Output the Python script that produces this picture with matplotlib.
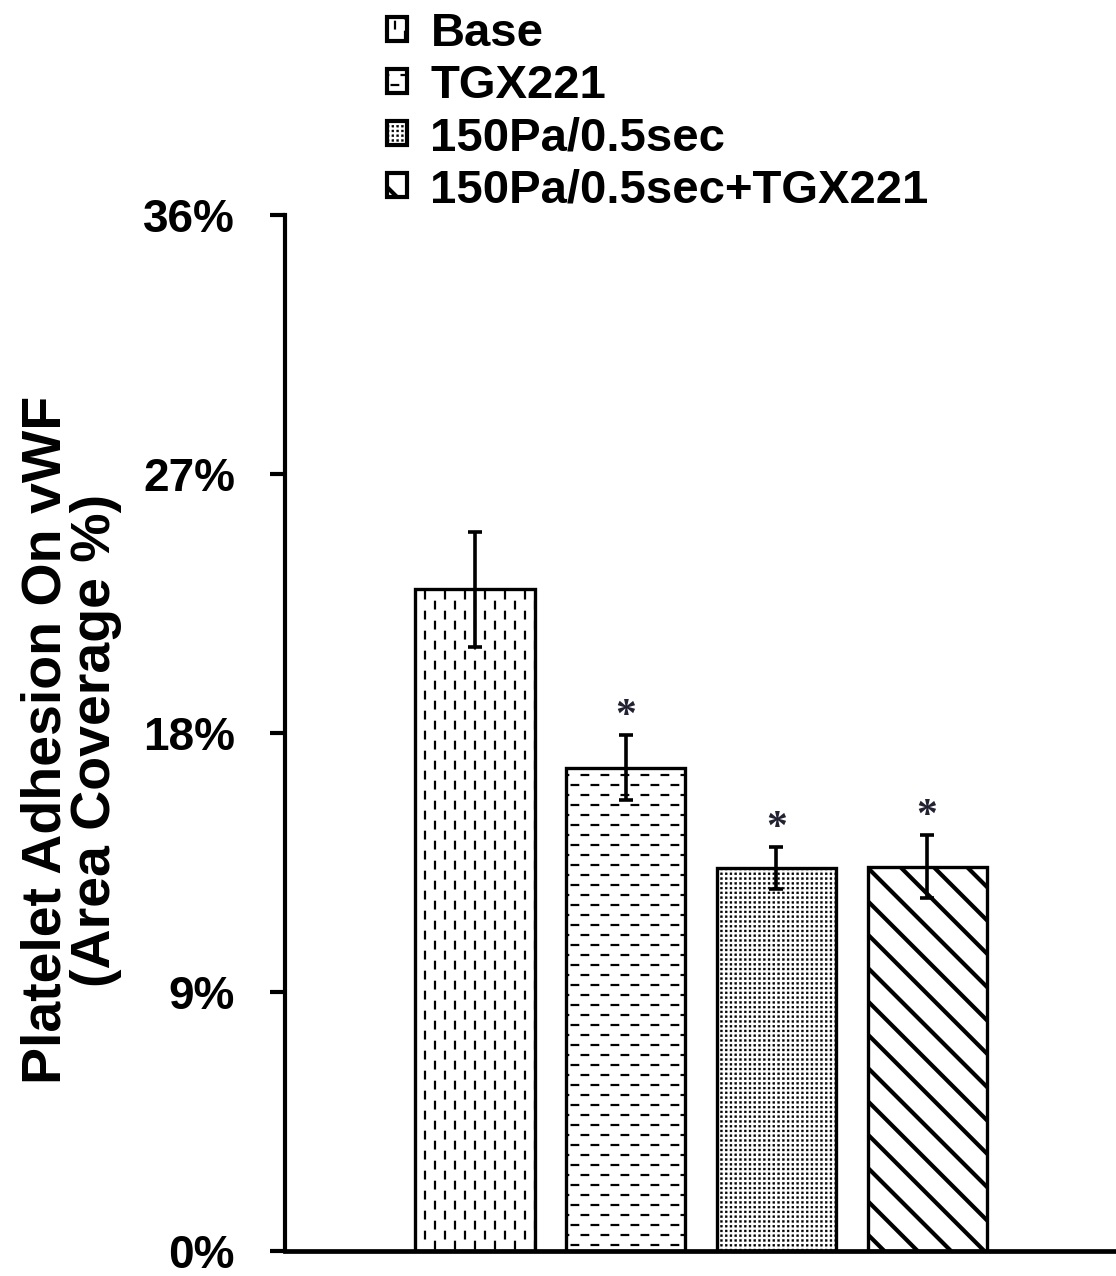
import warnings
warnings.filterwarnings("ignore")
import numpy as np
import matplotlib
matplotlib.use("Agg")
import matplotlib.pyplot as plt
import matplotlib.hatch as mhatch
from matplotlib.path import Path
from matplotlib.patches import Patch

# ---------------- data ----------------
categories = ["Base", "TGX221", "150Pa/0.5sec", "150Pa/0.5sec+TGX221"]
means = [23.0, 16.8, 13.3, 13.35]
errors = [2.0, 1.13, 0.73, 1.1]
significant = [False, True, True, True]
yticks = [0, 9, 18, 27, 36]
ytick_labels = ["0%", "9%", "18%", "27%", "36%"]
y_label = "Platelet Adhesion On vWF\n(Area Coverage %)"

# ---------------- custom hatch patterns ----------------
class _DashLines(mhatch.HatchPatternBase):
    char = "v"
    vertical = True
    nlines = 10
    ndash = 5
    frac = 0.33

    def __init__(self, hatch, density):
        self.on = self.char in hatch
        self.num_vertices = self.nlines * self.ndash * 2 if self.on else 0

    def set_vertices_and_codes(self, vertices, codes):
        p = 1.0 / self.ndash
        L = self.frac * p
        a = 0.08 * p
        k = 0
        for i in range(self.nlines):
            c = (i + 0.5) / self.nlines
            off = 0.5 * p if i % 2 else 0.0
            for j in range(self.ndash):
                s = j * p + off + a
                e = s + L
                if self.vertical:
                    vertices[k] = (c, s)
                    vertices[k + 1] = (c, e)
                else:
                    vertices[k] = (s, c)
                    vertices[k + 1] = (e, c)
                codes[k] = Path.MOVETO
                codes[k + 1] = Path.LINETO
                k += 2


class DashedVertical(_DashLines):
    char = "v"
    vertical = True


class DashedHorizontal(_DashLines):
    char = "h"
    vertical = False


class SquareDots(mhatch.HatchPatternBase):
    char = "q"
    n = 21
    side = 0.019

    def __init__(self, hatch, density):
        self.on = self.char in hatch
        self.num_vertices = self.n * self.n * 5 if self.on else 0

    def set_vertices_and_codes(self, vertices, codes):
        d = 1.0 / self.n
        h = self.side / 2
        k = 0
        for i in range(self.n):
            for j in range(self.n):
                cx = (i + 0.5) * d
                cy = (j + 0.5) * d
                vertices[k:k + 5] = [(cx - h, cy - h), (cx + h, cy - h),
                                     (cx + h, cy + h), (cx - h, cy + h),
                                     (cx - h, cy - h)]
                codes[k] = Path.MOVETO
                codes[k + 1:k + 4] = Path.LINETO
                codes[k + 4] = Path.CLOSEPOLY
                k += 5


mhatch._hatch_types.extend([DashedVertical, DashedHorizontal, SquareDots])

hatches = ["v", "h", "q", "\\"]
hatch_lws = [1.6, 1.6, 0.3, 3.0]

# ---------------- figure ----------------
W, H = 1116, 1276
fig = plt.figure(figsize=(W / 100, H / 100), dpi=100)
left_px, right_px, bottom_px, top_px = 285, 1116, 1251, 215
ax = fig.add_axes([left_px / W, 1 - bottom_px / H,
                   (right_px - left_px) / W, (bottom_px - top_px) / H])

x = np.arange(len(categories))
for xi, m, hatch, hlw in zip(x, means, hatches, hatch_lws):
    with plt.rc_context({"hatch.linewidth": hlw}):
        b = ax.bar(xi, m, width=0.79, color="white", edgecolor="black",
                   linewidth=2.4, hatch=hatch, zorder=2)
    for p in b:
        if hasattr(p, "set_hatch_linewidth"):
            p.set_hatch_linewidth(hlw)

ax.errorbar(x, means, yerr=errors, fmt="none", ecolor="black",
            elinewidth=2.6, capsize=5, capthick=2.6, zorder=3)

for xi, m, e, s in zip(x, means, errors, significant):
    if s:
        ax.annotate("*", xy=(xi, m + e), xytext=(0, 6),
                    textcoords="offset points", ha="center", va="baseline",
                    fontsize=30, fontfamily="Liberation Serif",
                    fontweight="bold", color="#222233")

ax.set_ylim(0, 36)
ax.set_xlim((left_px - 475) / 150.7, (right_px - 475) / 150.7)
ax.set_yticks(yticks)
ax.set_yticklabels(ytick_labels, fontfamily="Liberation Sans",
                   fontweight="bold", fontsize=33)
ax.set_xticks([])
ax.tick_params(axis="y", direction="out", length=11, width=3, pad=25)
for side in ["top", "right"]:
    ax.spines[side].set_visible(False)
ax.spines["left"].set_linewidth(3)
ax.spines["bottom"].set_linewidth(3.4)

fig.text(71 / W, 1 - 740 / H, y_label, rotation=90, ha="center",
         va="center", multialignment="center", fontfamily="Liberation Sans",
         fontweight="bold", fontsize=40, linespacing=0.93)

handles = []
for hatch, hlw in zip(hatches, hatch_lws):
    with plt.rc_context({"hatch.linewidth": hlw}):
        hp = Patch(facecolor="white", edgecolor="black", hatch=hatch,
                   linewidth=3)
    if hasattr(hp, "set_hatch_linewidth"):
        hp.set_hatch_linewidth(hlw)
    handles.append(hp)

leg = ax.legend(handles, categories, loc="upper left",
                bbox_to_anchor=(387 / W, 1 - 12 / H),
                bbox_transform=fig.transFigure, frameon=False,
                prop=dict(family="Liberation Sans", weight="bold", size=34),
                handlelength=0.42, handleheight=0.42, handletextpad=0.5,
                labelspacing=0.17, borderpad=0, borderaxespad=0)
lh = getattr(leg, "legend_handles", None) or getattr(leg, "legendHandles", [])
for h, hlw in zip(lh, hatch_lws):
    if hasattr(h, "set_hatch_linewidth"):
        h.set_hatch_linewidth(hlw)

fig.savefig("out.png", dpi=100)
